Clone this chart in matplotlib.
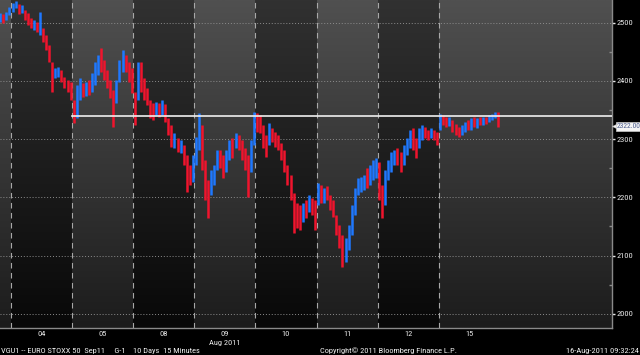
import numpy as np
import matplotlib
matplotlib.use("Agg")
import matplotlib.pyplot as plt
from matplotlib import font_manager
from matplotlib.transforms import blended_transform_factory

# ---------------- data (15-minute bars, EURO STOXX 50 Sep11 future) ----------------
day_labels = ["04", "05", "08", "09", "10", "11", "12", "15"]
month_label = "Aug 2011"
bars_per_day = 20
first_slot = 16          # series starts at slot 16 of the day before "04"

close = [
    2510, 2506, 2513, 2522,
    # 04
    2529, 2534, 2522, 2525, 2513, 2505, 2496, 2501, 2491, 2505,
    2474, 2462, 2439, 2410, 2415, 2419, 2405, 2395, 2388, 2374,
    # 05
    2341, 2381, 2398, 2381, 2391, 2384, 2405, 2422, 2432, 2427,
    2415, 2398, 2381, 2367, 2393, 2426, 2439, 2422, 2410, 2388,
    # 08
    2367, 2422, 2402, 2384, 2367, 2353, 2350, 2357, 2347, 2360,
    2336, 2316, 2298, 2302, 2285, 2290, 2264, 2244, 2233, 2261,
    # 09
    2290, 2324, 2264, 2213, 2195, 2233, 2247, 2271, 2261, 2247,
    2273, 2285, 2281, 2302, 2295, 2278, 2264, 2247, 2285, 2333,
    # 10
    2329, 2319, 2298, 2285, 2319, 2307, 2298, 2290, 2273, 2256,
    2233, 2213, 2178, 2175, 2161, 2182, 2178, 2195, 2187, 2170,
    # 11
    2213, 2204, 2209, 2204, 2187, 2178, 2144, 2127, 2101, 2118,
    2140, 2175, 2204, 2221, 2225, 2233, 2230, 2247, 2256, 2261,
    # 12
    2213, 2187, 2233, 2256, 2264, 2273, 2268, 2261, 2281, 2295,
    2307, 2295, 2285, 2312, 2316, 2311, 2307, 2312, 2305, 2298,
    # 15
    2336, 2333, 2329, 2333, 2319, 2316, 2312, 2319, 2324, 2323,
    2333, 2326, 2333, 2329, 2335, 2333, 2338, 2340, 2345, 2322,
]
high = [
    2517, 2515, 2518, 2527,
    2534, 2537, 2532, 2530, 2522, 2517, 2508, 2505, 2501, 2518,
    2491, 2479, 2462, 2432, 2422, 2424, 2419, 2407, 2402, 2398,
    2367, 2393, 2405, 2396, 2398, 2402, 2414, 2432, 2445, 2457,
    2436, 2419, 2402, 2384, 2402, 2436, 2453, 2445, 2432, 2422,
    2381, 2432, 2432, 2405, 2388, 2367, 2362, 2364, 2362, 2367,
    2360, 2336, 2324, 2311, 2302, 2298, 2290, 2273, 2256, 2273,
    2304, 2345, 2324, 2264, 2230, 2247, 2256, 2281, 2281, 2273,
    2281, 2298, 2302, 2311, 2307, 2298, 2285, 2273, 2298, 2347,
    2345, 2341, 2324, 2307, 2328, 2319, 2312, 2307, 2293, 2281,
    2256, 2238, 2207, 2190, 2187, 2190, 2195, 2204, 2199, 2195,
    2225, 2221, 2216, 2219, 2204, 2195, 2170, 2152, 2135, 2130,
    2152, 2187, 2216, 2233, 2235, 2238, 2250, 2256, 2264, 2268,
    2261, 2221, 2247, 2264, 2278, 2281, 2285, 2278, 2290, 2302,
    2316, 2319, 2302, 2319, 2324, 2321, 2316, 2319, 2316, 2312,
    2343, 2341, 2338, 2338, 2333, 2326, 2321, 2324, 2329, 2333,
    2336, 2338, 2336, 2338, 2338, 2338, 2341, 2343, 2347, 2347,
]
low = [
    2501, 2499, 2505, 2513,
    2518, 2525, 2515, 2517, 2505, 2496, 2491, 2487, 2484, 2479,
    2467, 2453, 2432, 2381, 2405, 2407, 2398, 2388, 2381, 2367,
    2328, 2336, 2367, 2372, 2374, 2376, 2381, 2393, 2410, 2415,
    2402, 2388, 2371, 2321, 2362, 2398, 2415, 2415, 2398, 2379,
    2324, 2367, 2381, 2367, 2359, 2336, 2333, 2341, 2338, 2341,
    2329, 2307, 2286, 2285, 2278, 2276, 2256, 2209, 2221, 2226,
    2256, 2281, 2247, 2195, 2164, 2204, 2221, 2247, 2250, 2233,
    2244, 2264, 2268, 2285, 2281, 2264, 2247, 2201, 2244, 2290,
    2312, 2311, 2285, 2269, 2290, 2295, 2286, 2281, 2264, 2244,
    2221, 2195, 2139, 2147, 2144, 2158, 2164, 2175, 2170, 2144,
    2187, 2190, 2190, 2195, 2178, 2166, 2135, 2113, 2080, 2089,
    2110, 2135, 2170, 2204, 2209, 2213, 2216, 2221, 2230, 2233,
    2195, 2164, 2187, 2230, 2244, 2256, 2256, 2244, 2256, 2273,
    2285, 2281, 2268, 2285, 2298, 2302, 2298, 2302, 2298, 2290,
    2316, 2324, 2321, 2323, 2312, 2307, 2304, 2307, 2312, 2316,
    2316, 2321, 2319, 2324, 2324, 2326, 2329, 2333, 2336, 2321,
]
first_open = 2506
level_line = 2340
last_price = 2322.00
y_ticks = [2000, 2100, 2200, 2300, 2400, 2500]
y_minor = [2050, 2150, 2250, 2350, 2450]

footer_left = "VGU1 -- EURO STOXX 50  Sep11     G-1    10 Days  15 Minutes"
footer_mid = "Copyright\u00a9 2011 Bloomberg Finance L.P."
footer_right = "16-Aug-2011 09:32:24"

# ---------------- font choice (narrow face if available) ----------------
avail = {f.name for f in font_manager.fontManager.ttflist}
narrow = [n for n in ["Liberation Sans Narrow", "DejaVu Sans Condensed",
                      "Roboto Condensed", "Open Sans Condensed"] if n in avail]
if narrow:
    fam = [narrow[0], "DejaVu Sans"]
    fs = 6.0
else:
    fam = ["Liberation Sans", "DejaVu Sans"]
    fs = 5.2

# ---------------- figure ----------------
W, H = 640, 355
fig = plt.figure(figsize=(W / 100, H / 100), dpi=100, facecolor="black")
ax = fig.add_axes([0, 1 - 328 / H, 612 / W, 328 / H])
ax.set_facecolor("black")

xmin, xmax = -0.18, 9.836
ymin, ymax = 1975.5, 2539.0

# gradient day bands
n_days = len(day_labels)
edges = [xmin] + list(range(0, n_days)) + [xmax]
for i in range(len(edges) - 1):
    light = (i % 2 == 0)
    top, bot = (0x50, 0x1c) if light else (0x31, 0x08)
    g = np.linspace(top, bot, 256) / 255.0
    img = np.repeat(g[:, None, None], 3, axis=2)
    ax.imshow(img, extent=[edges[i], edges[i + 1], ymin, ymax],
              aspect="auto", origin="upper", zorder=0, interpolation="bilinear")

# grid
for yv in y_ticks:
    ax.axhline(yv, color="#8c8c8c", lw=0.7, ls=(0, (1, 2)), zorder=1)
for d in range(n_days):
    ax.axvline(d, color="#a8a8a8", lw=0.8, ls=(0, (5, 4)), zorder=1)

# bars
close_a = np.array(close, float)
open_a = np.concatenate([[first_open], close_a[:-1]])
slots = np.arange(len(close_a)) + first_slot
xs = -1 + (slots + 0.5) / bars_per_day
cols = np.where(close_a >= open_a, "#1f78ff", "#f0142d")
ax.vlines(xs, low, high, colors=cols, lw=1.8, zorder=3)

# level line
ax.plot([1, xmax], [level_line, level_line], color="#f0f0f0", lw=1.2, zorder=4)

# axes styling
for s in ["left", "top"]:
    ax.spines[s].set_visible(False)
for s in ["bottom", "right"]:
    ax.spines[s].set_color("#8a8a8a")
    ax.spines[s].set_linewidth(1.0)
ax.set_xticks([])
ax.yaxis.tick_right()
ax.set_yticks(y_ticks)
ax.set_yticklabels([str(v) for v in y_ticks], family=fam, fontsize=fs, color="#e8e8e8")
ax.set_yticks(y_minor, minor=True)
ax.tick_params(axis="y", which="major", direction="out", length=2.5, width=1,
               color="#e8e8e8", pad=1)
ax.tick_params(axis="y", which="minor", direction="in", length=2.5, width=1,
               color="#8a8a8a")
ax.set_xlim(xmin, xmax)
ax.set_ylim(ymin, ymax)

# last price tag: small left-pointing marker + boxed value
ytr = blended_transform_factory(ax.transAxes, ax.transData)
ax.plot([1.0 + 2.5 / 612], [last_price], marker="<", ms=4.5, color="#f4f4f4",
        mec="#c8c8c8", mew=0.4, transform=ytr, clip_on=False, zorder=6)
ax.text(1.0 + 4.5 / 612, last_price, f"{last_price:.2f}", transform=ytr,
        va="center", ha="left", family=fam, fontsize=fs - 0.6, color="#506090",
        bbox=dict(boxstyle="square,pad=0.12", fc="#f4f4f4", ec="#c8c8c8", lw=0.5),
        clip_on=False, zorder=7)

# date labels
tr = blended_transform_factory(ax.transData, ax.transAxes)
for i, lab in enumerate(day_labels):
    ax.text(i + 0.5, -6 / 328, lab, transform=tr, ha="center", va="center",
            family=fam, fontsize=fs, color="#e8e8e8")
ax.text(3.5, -14.5 / 328, month_label, transform=tr, ha="center", va="center",
        family=fam, fontsize=fs, color="#e8e8e8")

# footer
fig.text(1 / W, 1 - 351 / H, footer_left, ha="left", va="center",
         family=fam, fontsize=fs, color="#f0f0f0")
fig.text(320 / W, 1 - 351 / H, footer_mid, ha="left", va="center",
         family=fam, fontsize=fs, color="#f0f0f0")
fig.text(639 / W, 1 - 351 / H, footer_right, ha="right", va="center",
         family=fam, fontsize=fs, color="#f0f0f0")

fig.savefig("out.png", dpi=100, facecolor="black")
